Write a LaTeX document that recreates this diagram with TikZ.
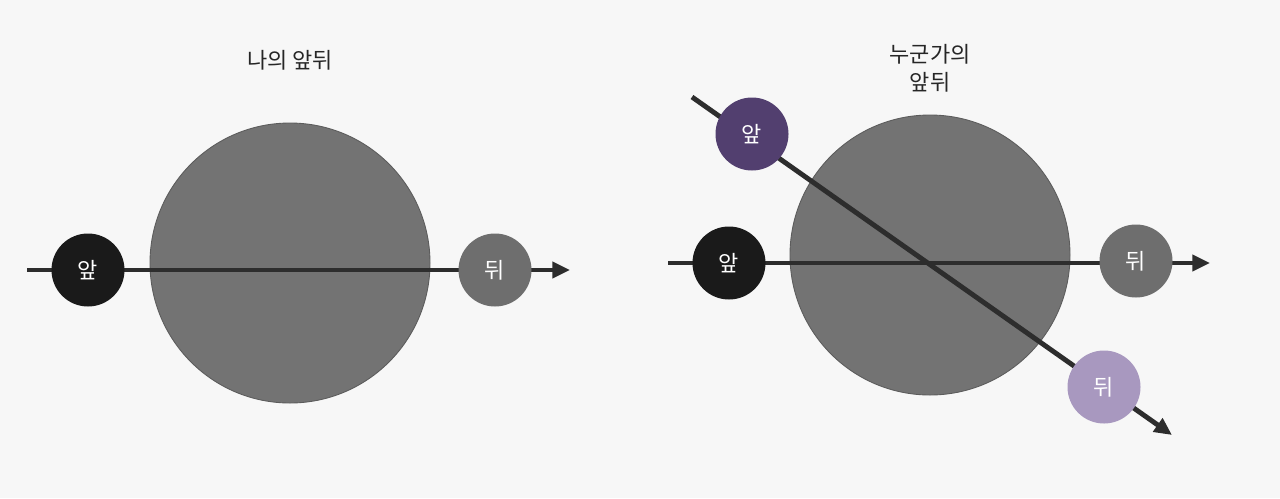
\documentclass[tikz,border=0pt]{standalone}
\usepackage{fontspec}
\setmainfont{Noto Sans CJK KR}
\usetikzlibrary{arrows.meta}
\definecolor{bg}{HTML}{F7F7F7}
\definecolor{big}{HTML}{737373}
\definecolor{ln}{HTML}{2D2D2D}
\definecolor{blk}{HTML}{1A1A1A}
\definecolor{gr}{HTML}{6E6E6E}
\definecolor{pd}{HTML}{523F6F}
\definecolor{pl}{HTML}{A898BF}
\begin{document}
\begin{tikzpicture}[x=0.02cm,y=-0.02cm,
  bigc/.style={circle,fill=big,draw=big!80!black,line width=0.5pt,minimum size=280*0.02cm,inner sep=0},
  sm/.style={circle,minimum size=73*0.02cm,inner sep=0,text=white,font=\fontsize{12.5}{14}\selectfont},
  axis/.style={draw=ln,line width=2.8pt,-{Triangle[length=10pt,width=9pt]}},
  ttl/.style={font=\fontsize{12.5}{16}\selectfont,align=center,text=black!85}]
\fill[bg] (0,0) rectangle (1280,498);
% left
\node[bigc] (L) at (290,263) {};
\coordinate (ls) at (27,270); \coordinate (le) at (570,270);
\draw[axis] (ls) -- (le);
\node[sm,fill=blk] (lf) at (88,270) {앞};
\node[sm,fill=gr] (lb) at (495,270) {뒤};
\node[ttl] (lt) at (290,60) {나의 앞뒤};
% right
\node[bigc] (R) at (930,255) {};
\coordinate (rs) at (668,263); \coordinate (re) at (1210,263);
\coordinate (ds) at (692,97); \coordinate (de) at (1172,435);
\draw[axis] (rs) -- (re);
\draw[axis] (ds) -- (de);
\node[sm,fill=blk] (rf) at (729,263) {앞};
\node[sm,fill=gr] (rb) at (1136,261) {뒤};
\node[sm,fill=pd] (pf) at (752,134) {앞};
\node[sm,fill=pl] (pb) at (1104,387) {뒤};
\node[ttl] (rt) at (930,68) {누군가의\\앞뒤};
\end{tikzpicture}
\end{document}
